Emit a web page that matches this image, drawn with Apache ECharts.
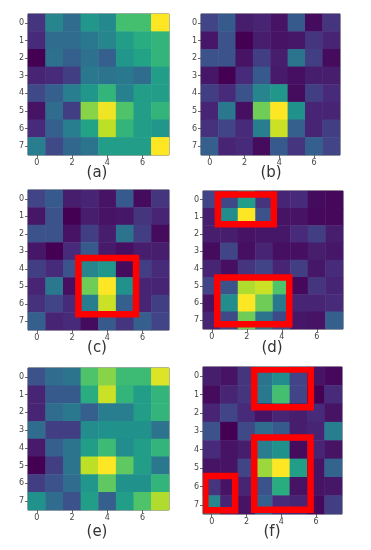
<!DOCTYPE html>
<html>
<head>
<meta charset="utf-8">
<script src="https://cdn.jsdelivr.net/npm/echarts@6/dist/echarts.min.js"></script>
<style>html,body{margin:0;padding:0;background:#fff}#c{width:371px;height:550px}</style>
</head>
<body>
<div id="c"></div>
<script>
const xCats = ['0','1','2','3','4','5','6','7'];
const yCats = ['0','1','2','3','4','5','6','7'];
const panelNames = ['(a)','(b)','(c)','(d)','(e)','(f)'];

const panelA = [
  [0.15,0.45,0.35,0.52,0.47,0.70,0.70,1.00],
  [0.12,0.35,0.35,0.40,0.45,0.55,0.62,0.65],
  [0.00,0.37,0.30,0.37,0.30,0.52,0.58,0.65],
  [0.10,0.12,0.18,0.40,0.38,0.40,0.35,0.55],
  [0.22,0.30,0.42,0.52,0.65,0.43,0.55,0.55],
  [0.05,0.35,0.18,0.82,0.98,0.72,0.55,0.65],
  [0.12,0.30,0.42,0.58,0.90,0.65,0.55,0.52],
  [0.42,0.22,0.33,0.38,0.55,0.55,0.55,1.00]
];
const panelB = [
  [0.20,0.28,0.08,0.10,0.05,0.28,0.03,0.15],
  [0.06,0.25,0.00,0.08,0.05,0.06,0.15,0.10],
  [0.25,0.25,0.05,0.18,0.08,0.38,0.18,0.03],
  [0.06,0.00,0.12,0.28,0.07,0.04,0.08,0.08],
  [0.18,0.12,0.25,0.45,0.52,0.03,0.18,0.12],
  [0.10,0.40,0.04,0.78,1.00,0.50,0.10,0.10],
  [0.14,0.20,0.12,0.42,0.92,0.30,0.10,0.18],
  [0.30,0.10,0.12,0.03,0.28,0.15,0.30,0.20]
];
const panelC = panelB;
const panelD = [
  [0.20,0.22,0.55,0.15,0.10,0.12,0.03,0.02],
  [0.08,0.48,1.00,0.25,0.05,0.05,0.02,0.02],
  [0.08,0.08,0.05,0.06,0.06,0.12,0.18,0.08],
  [0.03,0.20,0.04,0.10,0.04,0.04,0.08,0.06],
  [0.10,0.04,0.15,0.20,0.10,0.18,0.06,0.12],
  [0.20,0.25,0.88,0.92,0.72,0.02,0.15,0.10],
  [0.05,0.48,1.00,0.78,0.40,0.10,0.10,0.12],
  [0.10,0.22,0.78,0.38,0.22,0.06,0.05,0.30]
];
const panelE = [
  [0.25,0.35,0.38,0.72,0.82,0.68,0.68,0.95],
  [0.10,0.28,0.28,0.62,0.92,0.65,0.55,0.65],
  [0.10,0.35,0.40,0.30,0.42,0.42,0.55,0.65],
  [0.35,0.18,0.18,0.48,0.50,0.50,0.50,0.38],
  [0.07,0.30,0.38,0.55,0.68,0.48,0.55,0.65],
  [0.00,0.18,0.38,0.90,1.00,0.75,0.55,0.40],
  [0.18,0.25,0.35,0.52,0.75,0.50,0.50,0.65],
  [0.50,0.35,0.25,0.55,0.30,0.55,0.72,0.88]
];
const panelF = [
  [0.08,0.05,0.15,0.38,0.48,0.20,0.05,0.02],
  [0.03,0.10,0.15,0.40,0.70,0.20,0.00,0.12],
  [0.10,0.20,0.12,0.05,0.10,0.08,0.12,0.05],
  [0.25,0.00,0.22,0.35,0.28,0.08,0.10,0.42],
  [0.12,0.05,0.08,0.42,0.50,0.03,0.10,0.05],
  [0.05,0.05,0.20,0.85,1.00,0.55,0.05,0.32],
  [0.15,0.05,0.10,0.25,0.62,0.05,0.05,0.06],
  [0.45,0.10,0.05,0.30,0.12,0.10,0.02,0.18]
];
const panels = [panelA, panelB, panelC, panelD, panelE, panelF];

// highlight boxes per panel: [xStart, xEnd, yStart, yEnd] in cell units (line centres)
const boxesA = [];
const boxesB = [];
const boxesC = [[2.36,5.63,3.38,6.60]];
const boxesD = [[0.35,3.55,-0.30,1.43],[0.31,4.43,4.52,7.22]];
const boxesE = [];
const boxesF = [[2.45,5.70,-0.36,1.69],[2.45,5.69,3.33,7.27],[-0.37,1.35,5.43,7.29]];
const boxes = [boxesA, boxesB, boxesC, boxesD, boxesE, boxesF];

const viridis = ['#440154','#482475','#414487','#355f8d','#2a788e','#21918c','#22a884','#44bf70','#7ad151','#bddf26','#fde725'];

// layout
const layout = [
  {left:28, top:14, width:141, height:141, lx:97, ly:173},
  {left:201, top:14, width:139, height:141, lx:271, ly:173},
  {left:28, top:190, width:141, height:140, lx:97, ly:348},
  {left:203, top:191, width:140, height:138, lx:272, ly:348},
  {left:28, top:368, width:141, height:142, lx:97, ly:532},
  {left:203, top:367, width:139, height:147, lx:272, ly:532}
];

const grids = [], xAxes = [], yAxes = [], series = [], graphics = [];
layout.forEach((g, i) => {
  grids.push({left:g.left, top:g.top, width:g.width, height:g.height, show:true, borderColor:'#555', borderWidth:1, backgroundColor:'transparent'});
  xAxes.push({type:'category', gridIndex:i, data:xCats, position:'bottom',
    axisLine:{show:false}, splitLine:{show:false},
    axisTick:{show:true, interval:1, alignWithLabel:true, length:3, lineStyle:{color:'#444', width:0.8}},
    axisLabel:{interval:1, fontSize:8, color:'#444', margin:4, fontFamily:'DejaVu Sans'}});
  yAxes.push({type:'category', gridIndex:i, data:yCats, inverse:true,
    axisLine:{show:false}, splitLine:{show:false},
    axisTick:{show:true, interval:0, alignWithLabel:true, length:3, lineStyle:{color:'#444', width:0.8}},
    axisLabel:{interval:0, fontSize:8, color:'#444', margin:4, fontFamily:'DejaVu Sans'}});
  const data = [];
  panels[i].forEach((row, r) => row.forEach((v, c) => data.push([c, r, v])));
  series.push({type:'heatmap', xAxisIndex:i, yAxisIndex:i, data:data, itemStyle:{borderWidth:0}, emphasis:{disabled:true}, z:2});
  graphics.push({type:'text', x:g.lx, y:g.ly, style:{text:panelNames[i], fontSize:15, fill:'#333', align:'center', verticalAlign:'middle', fontFamily:'DejaVu Sans'}});
});
layout.forEach((g, i) => {
  if (!boxes[i].length) return;
  series.push({type:'custom', xAxisIndex:i, yAxisIndex:i, clip:true, z:5,
    dimensions:['x','y','x0','x1','y0','y1'],
    encode:{x:0, y:1},
    data: boxes[i].map(b => [0, 0, b[0], b[1], b[2], b[3]]),
    renderItem: function(params, api) {
      const c0 = api.coord([0, 0]);
      const s = api.size([1, 1]);
      const x0 = c0[0] + api.value(2) * s[0];
      const x1 = c0[0] + api.value(3) * s[0];
      const y0 = c0[1] + api.value(4) * s[1];
      const y1 = c0[1] + api.value(5) * s[1];
      return {type:'rect', shape:{x:x0, y:y0, width:x1 - x0, height:y1 - y0},
        style:{fill:'none', stroke:'#ff0000', lineWidth:6.5, lineJoin:'miter'}};
    }
  });
});

const chart = echarts.init(document.getElementById('c'), null, {renderer:'canvas'});
chart.setOption({
  animation:false,
  backgroundColor:'#ffffff',
  grid:grids, xAxis:xAxes, yAxis:yAxes,
  visualMap:{type:'continuous', min:0, max:1, show:false, seriesIndex:[0,1,2,3,4,5], inRange:{color:viridis}},
  series:series,
  graphic:graphics
});
</script>
</body>
</html>
